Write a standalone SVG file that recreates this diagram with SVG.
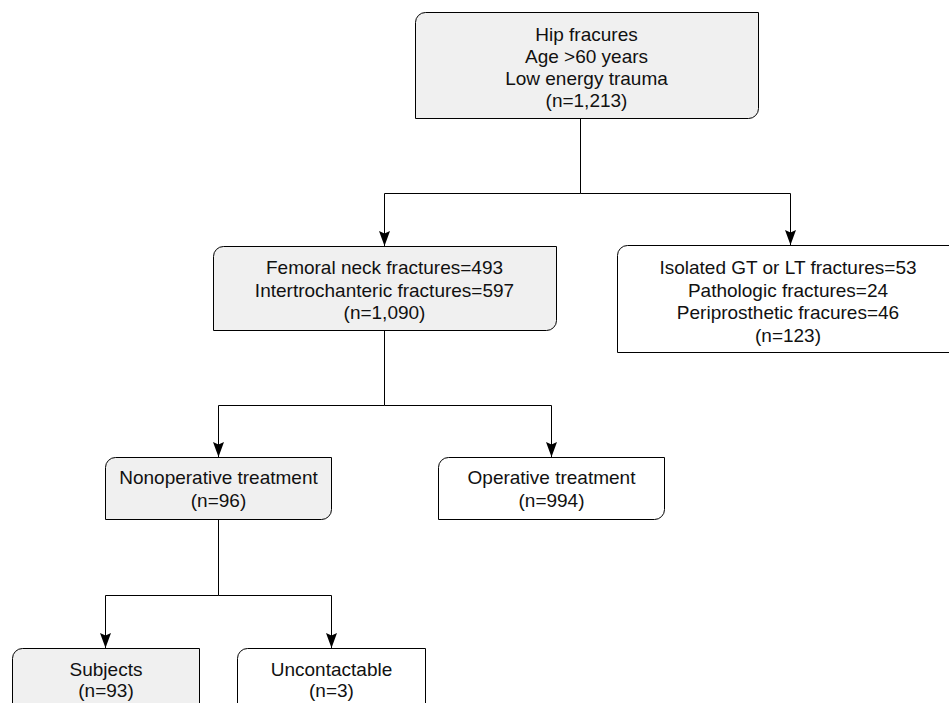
<svg xmlns="http://www.w3.org/2000/svg" width="949" height="703" viewBox="0 0 949 703">
<defs>
<style>
.box{stroke:#000;stroke-width:1;}
.g{fill:#f0f0f0;}
.w{fill:#fff;}
text{font-family:"Liberation Sans",Arial,Helvetica,sans-serif;font-size:19px;fill:#111;text-anchor:middle;}
.conn{fill:none;stroke:#000;stroke-width:1;marker-end:url(#arr);}
</style>
<marker id="arr" markerUnits="userSpaceOnUse" viewBox="0 0 15 11" refX="15" refY="5.5" markerWidth="15" markerHeight="11" orient="auto">
<path d="M0,0 L15,5.5 L0,11 L2.5,5.5 Z" fill="#000"/>
</marker>
</defs>
<rect x="0" y="0" width="949" height="703" fill="#fff"/>
<g id="connectors">
<path class="conn" d="M580.5 118.5 V193.5 H384.5 V246"/>
<path class="conn" d="M580.5 193.5 H790.5 V245"/>
<path class="conn" d="M384.5 330.5 V405.5 H218.5 V457"/>
<path class="conn" d="M384.5 405.5 H551.5 V457"/>
<path class="conn" d="M218.5 519.5 V595.5 H105.5 V648"/>
<path class="conn" d="M218.5 595.5 H331.5 V648"/>
</g>
<g id="n1">
<path class="box g" d="M425.5 12.5 H758.5 V108.5 A10 10 0 0 1 748.5 118.5 H415.5 V22.5 A10 10 0 0 1 425.5 12.5 Z"/>
<text x="586.5" y="41">Hip fracures</text>
<text x="586.5" y="63">Age &gt;60 years</text>
<text x="586.5" y="85">Low energy trauma</text>
<text x="586.5" y="107">(n=1,213)</text>
</g>
<g id="n2">
<path class="box g" d="M223.5 246.5 H556.5 V320.5 A10 10 0 0 1 546.5 330.5 H213.5 V256.5 A10 10 0 0 1 223.5 246.5 Z"/>
<text x="384.5" y="274">Femoral neck fractures=493</text>
<text x="384.5" y="296.5">Intertrochanteric fractures=597</text>
<text x="384.5" y="319">(n=1,090)</text>
</g>
<g id="n3">
<path class="box w" d="M627.5 245.5 H958 V352.5 H617.5 V255.5 A10 10 0 0 1 627.5 245.5 Z"/>
<text x="788" y="274">Isolated GT or LT fractures=53</text>
<text x="788" y="296.5">Pathologic fractures=24</text>
<text x="788" y="319">Periprosthetic fracures=46</text>
<text x="788" y="341.5">(n=123)</text>
</g>
<g id="n4">
<path class="box g" d="M115.5 457.5 H331.5 V509.5 A10 10 0 0 1 321.5 519.5 H105.5 V467.5 A10 10 0 0 1 115.5 457.5 Z"/>
<text x="218.5" y="484">Nonoperative treatment</text>
<text x="218.5" y="507">(n=96)</text>
</g>
<g id="n5">
<path class="box w" d="M448.5 457.5 H664.5 V509.5 A10 10 0 0 1 654.5 519.5 H438.5 V467.5 A10 10 0 0 1 448.5 457.5 Z"/>
<text x="551.5" y="484">Operative treatment</text>
<text x="551.5" y="507">(n=994)</text>
</g>
<g id="n6">
<path class="box g" d="M22.5 648.5 H199.5 V720 H12.5 V658.5 A10 10 0 0 1 22.5 648.5 Z"/>
<text x="106" y="676">Subjects</text>
<text x="106" y="697">(n=93)</text>
</g>
<g id="n7">
<path class="box w" d="M247.5 648.5 H425.5 V720 H237.5 V658.5 A10 10 0 0 1 247.5 648.5 Z"/>
<text x="331.5" y="676">Uncontactable</text>
<text x="331.5" y="697">(n=3)</text>
</g>
</svg>
